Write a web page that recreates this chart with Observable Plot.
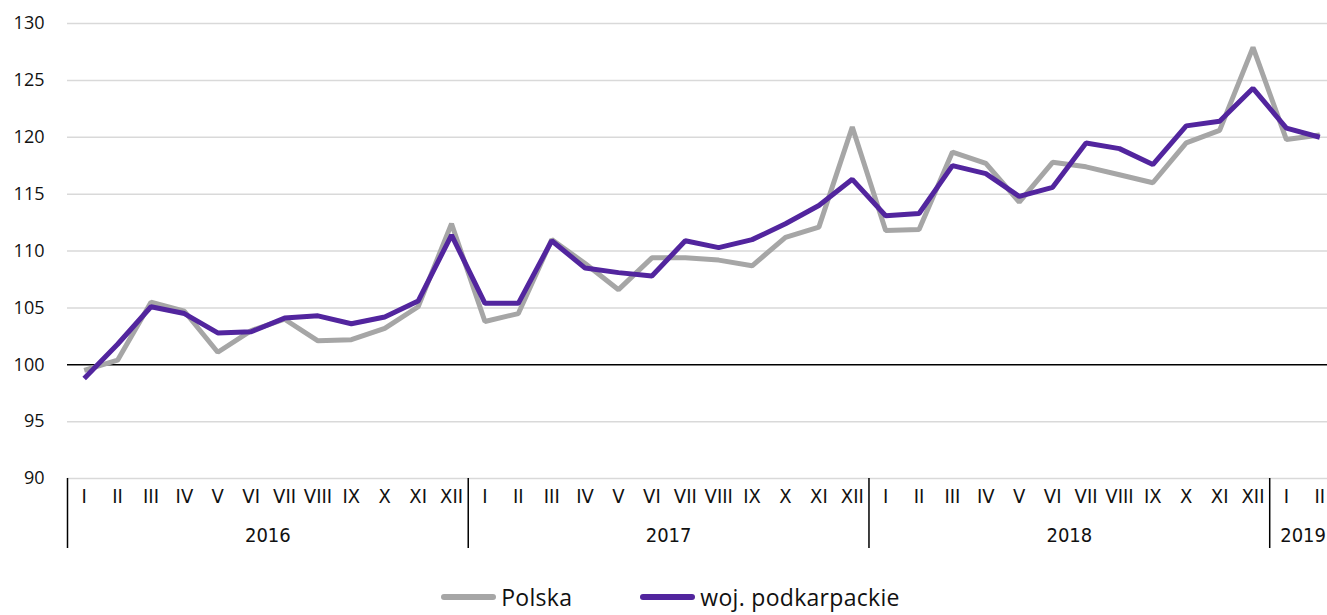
<!DOCTYPE html>
<html>
<head>
<meta charset="utf-8">
<script src="https://cdn.jsdelivr.net/npm/d3@7"></script>
<script src="https://cdn.jsdelivr.net/npm/@observablehq/plot@0.6"></script>
<style>
  html, body { margin: 0; padding: 0; background: #fff; overflow: hidden; }
  #chart svg { display: block; overflow: visible; }
  #legend { display: flex; justify-content: center; align-items: center; height: 34px; padding-left: 14px;
    font-family: "Open Sans", "Noto Sans", sans-serif; font-size: 23px; line-height: 1.15; letter-spacing: 0.3px; color: #111; }
  .item { display: flex; align-items: center; }
  .sw { width: 55px; height: 6px; border-radius: 3px; margin-right: 5px; }
</style>
</head>
<body>
<div id="chart"></div>
<div id="legend"></div>
<script>
const months = ["I","II","III","IV","V","VI","VII","VIII","IX","X","XI","XII",
                "I","II","III","IV","V","VI","VII","VIII","IX","X","XI","XII",
                "I","II","III","IV","V","VI","VII","VIII","IX","X","XI","XII",
                "I","II"];
const years = ["2016","2017","2018","2019"];
const yearStarts = [0, 12, 24, 36];
const yearEnds = [12, 24, 36, 38];
const polska = [99.5,100.4,105.5,104.7,101.1,103.0,104.0,102.1,102.2,103.2,105.1,112.4,
                103.8,104.5,111.0,108.9,106.6,109.4,109.4,109.2,108.7,111.2,112.1,120.9,
                111.8,111.9,118.7,117.7,114.3,117.8,117.4,116.7,116.0,119.5,120.6,127.9,
                119.8,120.2];
const podkarpackie = [98.8,101.8,105.1,104.5,102.8,102.9,104.1,104.3,103.6,104.2,105.6,111.4,
                105.4,105.4,110.9,108.5,108.1,107.8,110.9,110.3,111.0,112.4,114.0,116.3,
                113.1,113.3,117.5,116.8,114.8,115.6,119.5,119.0,117.6,121.0,121.4,124.3,
                120.8,120.0];
const seriesNames = ["Polska", "woj. podkarpackie"];
const seriesColors = ["#a6a6a6", "#52259e"];
const yTicks = [90,95,100,105,110,115,120,125,130];

const rows = [];
polska.forEach((v, i) => rows.push({i: i + 0.5, v, s: seriesNames[0]}));
podkarpackie.forEach((v, i) => rows.push({i: i + 0.5, v, s: seriesNames[1]}));
const monthRows = months.map((m, i) => ({i: i + 0.5, m}));
const yearRows = years.map((y, k) => ({x: (yearStarts[k] + yearEnds[k]) / 2, y}));

const chart = Plot.plot({
  width: 1327,
  height: 580,
  marginLeft: 67,
  marginRight: 0,
  marginTop: 23,
  marginBottom: 102,
  x: {domain: [0, 38], range: [67, 1336], axis: null},
  y: {domain: [90, 130], axis: null},
  color: {domain: seriesNames, range: seriesColors},
  marks: [
    Plot.ruleY(yTicks.filter(t => t !== 100), {stroke: "#d9d9d9", strokeWidth: 1.5}),
    Plot.ruleY([100], {stroke: "#000", strokeWidth: 1.5}),
    Plot.axisY({ticks: yTicks, tickSize: 0, tickPadding: 23, fontSize: 18,
                fontFamily: "Open Sans, Noto Sans, sans-serif", fill: "#111", label: null}),
    Plot.axisX({ticks: yearStarts, tickSize: 70, tickFormat: () => "", stroke: "#000", strokeWidth: 1.5}),
    Plot.text(monthRows, {x: "i", y: () => 90, text: "m", dy: 18, fontSize: 20,
               fontFamily: "Liberation Sans Narrow, DejaVu Sans Condensed, sans-serif", fill: "#111"}),
    Plot.text(yearRows, {x: "x", y: () => 90, text: "y", dy: 57, fontSize: 20,
               fontFamily: "Liberation Sans Narrow, DejaVu Sans Condensed, sans-serif", fill: "#111"}),
    Plot.line(rows, {x: "i", y: "v", z: "s", stroke: "s", strokeWidth: 5, strokeLinejoin: "miter", strokeLinecap: "butt"})
  ]
});
document.getElementById("chart").appendChild(chart);

const legend = document.getElementById("legend");
seriesNames.forEach((n, k) => {
  const it = document.createElement("div");
  it.className = "item";
  if (k > 0) it.style.marginLeft = "68px";
  const sw = document.createElement("div");
  sw.className = "sw";
  sw.style.background = seriesColors[k];
  const t = document.createElement("span");
  t.textContent = n;
  it.appendChild(sw); it.appendChild(t);
  legend.appendChild(it);
});
</script>
</body>
</html>
